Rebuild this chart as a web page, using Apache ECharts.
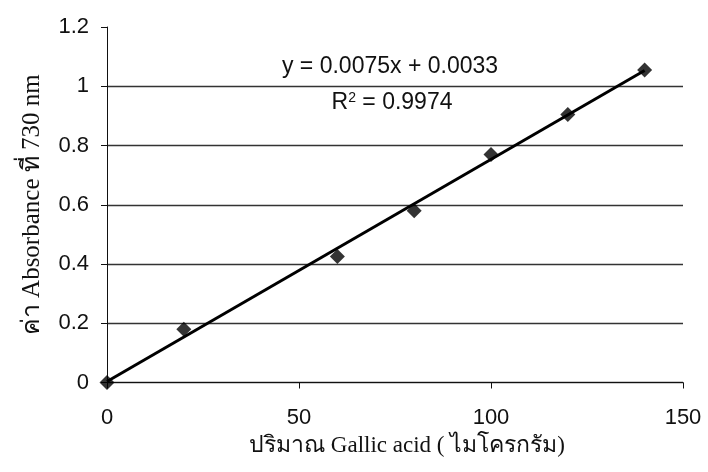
<!DOCTYPE html>
<html>
<head>
<meta charset="utf-8">
<script src="https://cdn.jsdelivr.net/npm/echarts@6/dist/echarts.min.js"></script>
<style>html,body{margin:0;padding:0;background:#fff;}#c{width:708px;height:472px;}</style>
</head>
<body>
<div id="c"></div>
<script>
var amountX = [0, 20, 60, 80, 100, 120, 140];
var absorbance = [0, 0.18, 0.425, 0.58, 0.77, 0.905, 1.055];
var trendX = [0, 140];
var trendY = [0.0033, 1.0533];
var yTicks = [0, 0.2, 0.4, 0.6, 0.8, 1, 1.2];
var xTicks = [0, 50, 100, 150];
var eqText = 'y = 0.0075x + 0.0033';
var r2Value = '0.9974';

var chart = echarts.init(document.getElementById('c'), null, {renderer: 'canvas'});
var pts = amountX.map(function (x, i) { return [x, absorbance[i]]; });
var trend = trendX.map(function (x, i) { return [x, trendY[i]]; });
chart.setOption({
  animation: false,
  backgroundColor: '#fff',
  grid: {left: 107, right: 25, top: 27, bottom: 89.5, containLabel: false},
  xAxis: {
    type: 'value', min: xTicks[0], max: xTicks[xTicks.length - 1], interval: 50,
    name: 'ปริมาณ Gallic acid ( ไมโครกรัม)', nameLocation: 'middle', nameGap: 52,
    nameTextStyle: {fontFamily: 'Liberation Serif', fontSize: 23, color: '#111', padding: [0, 0, 0, 24]},
    axisLine: {show: true, onZero: false, lineStyle: {color: '#111', width: 1}},
    axisTick: {show: true, length: 6, lineStyle: {color: '#111'}},
    axisLabel: {margin: 24, fontFamily: 'Liberation Sans', fontSize: 22, color: '#111'},
    splitLine: {show: false}
  },
  yAxis: {
    type: 'value', min: yTicks[0], max: yTicks[yTicks.length - 1], interval: 0.2,
    name: 'ค่า Absorbance ที่ 730 nm', nameLocation: 'middle', nameGap: 62, nameRotate: 90,
    nameTextStyle: {fontFamily: 'Liberation Serif', fontSize: 25, color: '#111'},
    axisLine: {show: true, lineStyle: {color: '#111', width: 1}},
    axisTick: {show: true, length: 6, lineStyle: {color: '#111'}},
    axisLabel: {margin: 18, fontFamily: 'Liberation Sans', fontSize: 22, color: '#111',
      formatter: function (v) { return String(Math.round(v * 10) / 10); }},
    splitLine: {show: true, showMaxLine: false, lineStyle: {color: '#333', width: 1.3}}
  },
  series: [
    {type: 'line', data: trend, showSymbol: false, symbol: 'none', lineStyle: {color: '#000', width: 3}, z: 2},
    {type: 'scatter', data: pts, symbol: 'diamond', symbolSize: 15, itemStyle: {color: '#000'}, z: 3}
  ],
  graphic: [
    {type: 'text', style: {x: 390, y: 67, text: eqText, font: '23px "Liberation Sans"', fill: '#111', align: 'center', verticalAlign: 'middle'}},
    {type: 'text', style: {x: 392, y: 103, text: '{n|R}{s|2}{n| = ' + r2Value + '}', align: 'center', verticalAlign: 'middle',
      rich: {n: {font: '23px "Liberation Sans"', fill: '#111'}, s: {font: '14px "Liberation Sans"', fill: '#111', verticalAlign: 'top', padding: [0, 0, 8, 0]}}}}
  ]
});
</script>
</body>
</html>
